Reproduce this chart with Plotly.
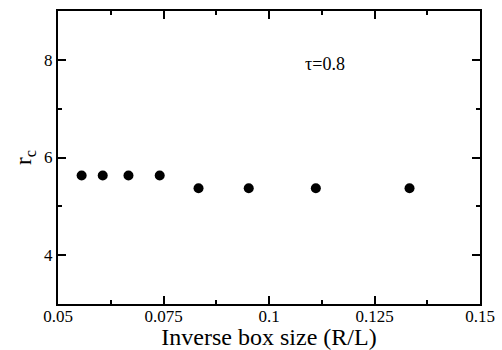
import plotly.graph_objects as go

inv_box_size = [0.0556, 0.0606, 0.0667, 0.0741, 0.0833, 0.0952, 0.1111, 0.1333]
r_c = [5.63, 5.63, 5.63, 5.63, 5.37, 5.37, 5.37, 5.37]
x_ticks = [0.05, 0.075, 0.1, 0.125, 0.15]
x_tick_labels = ["0.05", "0.075", "0.1", "0.125", "0.15"]
y_ticks = [4, 6, 8]
y_tick_labels = ["4", "6", "8"]

font = "Liberation Serif"

fig = go.Figure()
fig.add_trace(go.Scatter(
    x=inv_box_size, y=r_c, mode="markers",
    marker=dict(color="black", size=10),
    showlegend=False, hoverinfo="skip",
))

fig.add_annotation(x=0.1133, y=7.92, text="τ=0.8", showarrow=False,
                   font=dict(family=font, size=18, color="black"))

axis_common = dict(
    showgrid=False, zeroline=False, showline=True, linecolor="black",
    linewidth=2, mirror="allticks", ticks="inside", ticklen=8, tickwidth=2,
    tickcolor="black", automargin=False,
    tickfont=dict(family=font, size=17, color="black"),
)

fig.update_xaxes(
    range=[0.05, 0.15], tickvals=x_ticks, ticktext=x_tick_labels,
    minor=dict(ticks="inside", ticklen=4, tickwidth=2, tickcolor="black", dtick=0.0125, tick0=0.05),
    title=dict(text="Inverse box size (R/L)", font=dict(family=font, size=24, color="black"), standoff=0),
    ticklabelstandoff=-4,
    **axis_common,
)
fig.update_yaxes(
    range=[3, 9], tickvals=y_ticks, ticktext=y_tick_labels,
    minor=dict(ticks="inside", ticklen=4, tickwidth=2, tickcolor="black", dtick=1, tick0=3),
    title=dict(text="r<sub>c</sub>", font=dict(family=font, size=23, color="black"), standoff=6),
    **axis_common,
)

fig.update_layout(
    width=502, height=350,
    margin=dict(l=58, r=22, t=11, b=46),
    paper_bgcolor="white", plot_bgcolor="white",
)

fig.write_html("out.html", config={"displayModeBar": False},
               post_script="document.body.style.margin='0';")
